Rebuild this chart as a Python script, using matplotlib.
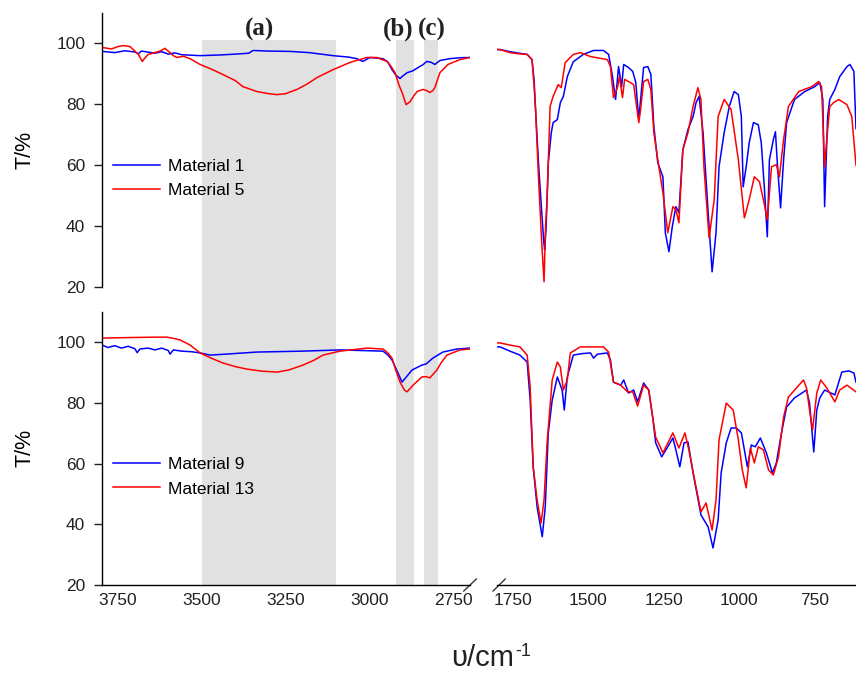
import matplotlib
matplotlib.use("Agg")
import matplotlib.pyplot as plt
from matplotlib.patches import Rectangle
from matplotlib.transforms import blended_transform_factory

plt.rcParams['font.family'] = ['Liberation Sans', 'DejaVu Sans']

# ---- data (wavenumber cm-1, transmittance %) ----
# high wavenumber region, top panel
m1_hi_wn = [3798, 3760, 3730, 3700, 3690, 3680, 3640, 3620, 3600, 3580, 3560, 3505, 3450, 3400, 3360,
            3347, 3300, 3237, 3180, 3108, 3060, 3037, 3019, 2998, 2959, 2945, 2932, 2920, 2908, 2900,
            2887, 2870, 2854, 2840, 2828, 2815, 2804, 2789, 2759, 2730, 2699]
m1_hi_t = [97.4, 97.0, 97.6, 97.2, 96.6, 97.5, 96.8, 97.3, 96.5, 96.9, 96.3, 96.0, 96.2, 96.5, 96.8,
           97.7, 97.5, 97.4, 97.0, 96.0, 95.5, 95.0, 94.1, 95.4, 95.0, 94.0, 91.4, 89.5, 88.5, 89.3,
           90.4, 91.0, 92.1, 93.0, 94.1, 93.8, 93.1, 94.4, 95.0, 95.3, 95.4]
m5_hi_wn = [3798, 3770, 3750, 3735, 3715, 3705, 3690, 3678, 3668, 3660, 3640, 3625, 3610, 3595, 3585,
            3574, 3555, 3535, 3505, 3470, 3437, 3400, 3377, 3335, 3300, 3275, 3250, 3216, 3185, 3156,
            3108, 3057, 3007, 2977, 2947, 2935, 2923, 2910, 2902, 2890, 2878, 2867, 2857, 2840, 2830,
            2819, 2810, 2804, 2789, 2765, 2729, 2699]
m5_hi_t = [98.7, 98.2, 99.0, 99.3, 99.0, 98.0, 96.5, 94.1, 95.5, 96.4, 97.0, 97.5, 98.4, 97.0, 96.0,
           95.4, 95.8, 95.0, 93.1, 91.5, 89.8, 87.8, 85.8, 84.2, 83.5, 83.2, 83.5, 84.9, 86.7, 88.8,
           91.4, 93.8, 95.4, 95.4, 94.1, 92.5, 90.4, 86.0, 83.9, 79.9, 80.9, 82.8, 84.2, 84.9, 84.6,
           83.9, 84.5, 85.5, 90.4, 93.1, 94.7, 95.4]

# high wavenumber region, bottom panel
m9_hi_wn = [3798, 3780, 3760, 3740, 3720, 3700, 3693, 3685, 3660, 3640, 3620, 3600, 3595, 3585, 3560,
            3530, 3505, 3475, 3430, 3335, 3198, 3087, 2959, 2945, 2932, 2915, 2902, 2887, 2872, 2843,
            2830, 2810, 2780, 2738, 2699]
m9_hi_t = [99.0, 98.2, 98.8, 98.0, 98.6, 97.8, 96.5, 97.7, 98.0, 97.4, 98.0, 97.2, 96.0, 97.4, 97.0,
           96.8, 96.4, 95.7, 96.0, 96.7, 97.0, 97.4, 97.0, 95.8, 94.1, 90.0, 86.8, 88.8, 90.8, 92.4,
           92.8, 94.7, 96.7, 97.7, 98.0]
m13_hi_wn = [3798, 3700, 3640, 3604, 3585, 3565, 3535, 3505, 3470, 3437, 3400, 3366, 3320, 3275, 3240,
             3198, 3165, 3138, 3087, 3007, 2959, 2945, 2932, 2920, 2908, 2895, 2887, 2869, 2843, 2830,
             2819, 2798, 2785, 2768, 2729, 2699]
m13_hi_t = [101.3, 101.5, 101.6, 101.6, 101.2, 100.7, 99.0, 96.4, 94.6, 93.1, 91.9, 91.1, 90.4, 90.1, 90.8,
            92.4, 94.0, 95.7, 97.0, 98.0, 97.7, 96.5, 94.7, 90.5, 86.8, 84.2, 83.6, 85.8, 88.5, 88.6,
            88.2, 90.8, 93.2, 95.7, 97.4, 97.7]

# fingerprint region, top panel
m1_lo_wn = [1803, 1793, 1760, 1730, 1703, 1687, 1680, 1675, 1665, 1655, 1648, 1645, 1640, 1633, 1623,
            1617, 1603, 1593, 1583, 1570, 1550, 1517, 1483, 1450, 1433, 1420, 1410, 1400, 1390, 1383,
            1367, 1353, 1343, 1333, 1327, 1317, 1303, 1293, 1283, 1270, 1253, 1245, 1233, 1222, 1210,
            1200, 1187, 1170, 1153, 1143, 1133, 1120, 1103, 1090, 1077, 1067, 1050, 1033, 1017, 1003,
            993, 987, 977, 967, 953, 937, 927, 917, 907, 900, 887, 880, 873, 863, 853,
            843, 817, 783, 750, 733, 723, 717, 707, 700, 683, 667, 643, 633, 620, 613]
m1_lo_t = [98.0, 98.0, 97.3, 96.8, 96.4, 94.7, 88.0, 78.0, 60.0, 45.0, 35.0, 32.2, 40.0, 60.8, 70.7,
           74.0, 75.0, 80.6, 82.6, 89.1, 94.0, 96.4, 97.7, 97.7, 96.4, 89.1, 81.6, 92.4, 85.8, 93.1,
           92.1, 90.8, 87.2, 75.0, 81.6, 92.1, 92.4, 89.8, 72.7, 60.8, 56.2, 37.8, 31.6, 39.8, 46.4,
           44.4, 65.1, 71.7, 76.0, 80.6, 82.6, 70.7, 44.4, 25.0, 37.8, 59.5, 70.7, 79.3, 84.2, 83.2,
           76.0, 52.9, 59.5, 67.4, 74.0, 73.3, 67.4, 52.9, 36.5, 61.8, 68.4, 71.0, 59.5, 46.0, 61.8,
           74.0, 81.6, 84.2, 85.8, 87.2, 81.6, 46.4, 76.0, 81.6, 84.9, 89.1, 92.4, 93.1, 90.8, 72.0]
m5_lo_wn = [1803, 1793, 1760, 1730, 1703, 1687, 1680, 1675, 1665, 1655, 1647, 1642, 1637, 1627, 1617,
            1600, 1590, 1577, 1550, 1527, 1493, 1437, 1427, 1417, 1403, 1397, 1387, 1380, 1367, 1350,
            1333, 1327, 1317, 1303, 1293, 1283, 1270, 1253, 1237, 1220, 1210, 1200, 1187, 1170, 1153,
            1137, 1127, 1117, 1100, 1083, 1070, 1050, 1027, 1003, 983, 967, 950, 933, 920, 907,
            893, 877, 867, 853, 837, 803, 760, 737, 727, 717, 710, 700, 687, 670, 643,
            627, 613]
m5_lo_t = [98.0, 98.0, 97.0, 96.6, 96.4, 94.7, 86.0, 78.0, 55.0, 35.0, 21.7, 40.0, 48.7, 79.3, 82.6,
           86.5, 85.5, 93.7, 96.4, 97.0, 95.7, 94.7, 92.4, 82.2, 85.8, 89.1, 82.2, 88.2, 87.5, 86.5,
           74.0, 78.3, 87.5, 88.2, 84.9, 70.7, 61.8, 51.0, 37.8, 46.4, 45.4, 41.1, 65.1, 70.7, 79.3,
           85.5, 81.6, 59.5, 36.1, 48.7, 76.0, 81.6, 78.3, 61.8, 42.7, 48.7, 56.2, 54.6, 48.7, 42.1,
           59.5, 60.2, 56.2, 68.4, 79.3, 84.2, 85.8, 87.5, 85.8, 59.5, 68.4, 79.3, 80.6, 81.6, 79.9,
           76.0, 60.0]

# fingerprint region, bottom panel
m9_lo_wn = [1803, 1793, 1760, 1727, 1703, 1693, 1683, 1670, 1653, 1643, 1633, 1620, 1603, 1587, 1580,
            1570, 1550, 1520, 1493, 1483, 1470, 1437, 1427, 1417, 1393, 1383, 1367, 1350, 1337, 1317,
            1300, 1287, 1277, 1257, 1237, 1220, 1210, 1197, 1183, 1170, 1153, 1127, 1103, 1087, 1070,
            1060, 1043, 1027, 1010, 993, 973, 960, 947, 930, 910, 890, 877, 860, 843, 817,
            777, 767, 753, 743, 733, 717, 683, 660, 637, 620, 613]
m9_lo_t = [98.4, 98.4, 97.0, 95.7, 93.4, 80.9, 58.9, 45.7, 35.9, 45.7, 70.1, 80.9, 88.5, 84.2, 77.6,
           88.5, 95.7, 96.2, 96.4, 94.7, 96.0, 96.4, 94.1, 86.8, 85.8, 87.5, 83.2, 84.2, 80.3, 86.5,
           84.2, 75.3, 66.8, 62.2, 65.5, 68.4, 64.5, 58.9, 66.8, 67.1, 56.9, 43.1, 39.1, 32.2, 41.4,
           56.9, 66.8, 71.7, 71.7, 70.1, 58.9, 66.1, 65.5, 68.4, 63.5, 56.9, 60.2, 70.1, 78.6, 81.6,
           84.2, 79.9, 63.8, 77.6, 81.6, 84.2, 82.6, 90.1, 90.5, 89.8, 86.8]
m13_lo_wn = [1803, 1793, 1760, 1727, 1703, 1693, 1683, 1670, 1657, 1647, 1637, 1620, 1603, 1593, 1583,
             1570, 1560, 1527, 1450, 1433, 1417, 1393, 1370, 1353, 1337, 1317, 1300, 1287, 1277, 1253,
             1220, 1200, 1180, 1167, 1150, 1127, 1110, 1090, 1077, 1067, 1043, 1020, 1003, 990, 977,
             963, 950, 937, 920, 903, 887, 870, 853, 837, 787, 777, 767, 757, 743, 730,
             710, 683, 667, 643, 613]
m13_lo_t = [99.7, 99.7, 99.0, 98.4, 95.7, 85.2, 58.9, 48.0, 40.4, 48.0, 66.8, 87.5, 93.4, 91.8, 84.2,
            87.5, 96.4, 98.4, 98.4, 96.7, 86.8, 85.8, 83.6, 83.6, 78.9, 85.8, 84.2, 75.3, 68.7, 63.5,
            70.1, 65.1, 70.1, 64.5, 55.6, 44.1, 47.0, 38.1, 48.0, 67.8, 79.9, 77.6, 67.8, 57.9, 52.0,
            65.1, 60.2, 65.5, 64.5, 57.9, 56.2, 62.2, 75.3, 81.9, 87.5, 84.9, 77.6, 71.0, 83.2, 87.5,
            84.9, 80.3, 84.2, 85.8, 83.6]

bands = [(3500, 3100), (2920, 2865), (2835, 2795)]
band_labels = ['(a)', '(b)', '(c)']
band_label_x = [3329, 2914, 2813]

hi_ticks = [3750, 3500, 3250, 3000, 2750]
lo_ticks = [1750, 1500, 1250, 1000, 750]
y_ticks = [20, 40, 60, 80, 100]

blue = '#0000FF'
red = '#FF0000'

fig = plt.figure(figsize=(8.56, 6.75), dpi=100)
axL1 = fig.add_axes([0.1192, 0.5748, 0.4299, 0.4059])
axL2 = fig.add_axes([0.1192, 0.1333, 0.4299, 0.4050])
axR1 = fig.add_axes([0.5806, 0.5748, 0.4194, 0.4059])
axR2 = fig.add_axes([0.5806, 0.1333, 0.4194, 0.4050])

for ax in (axL1, axL2, axR1, axR2):
    ax.set_facecolor('none')
    ax.set_ylim(20, 110)
    for s in ax.spines.values():
        s.set_visible(False)
        s.set_linewidth(1.0)
    ax.tick_params(labelsize=12.5, colors='#222222', width=1.0)
for ax in (axL1, axL2):
    ax.set_xlim(3798, 2699)
    ax.spines['left'].set_visible(True)
    ax.set_yticks(y_ticks)
    ax.tick_params(axis='y', direction='out', length=6, pad=6)
    ax.set_ylabel('T/%', fontsize=15.5, labelpad=15)
for ax in (axR1, axR2):
    ax.set_xlim(1803, 613)
    ax.set_yticks([])
axL1.set_xticks([])
axR1.set_xticks([])
axL2.spines['bottom'].set_visible(True)
axR2.spines['bottom'].set_visible(True)
axL2.set_xticks(hi_ticks)
axR2.set_xticks(lo_ticks)
axL2.tick_params(axis='x', length=0, pad=6)
axR2.tick_params(axis='x', length=0, pad=6)

# shaded bands run through both left panels
tr = blended_transform_factory(axL2.transData, fig.transFigure)
for (b0, b1) in bands:
    fig.patches.append(Rectangle((b1, 0.1333), b0 - b1, 0.9407 - 0.1333, transform=tr,
                                 facecolor='#E1E1E1', edgecolor='none', zorder=-1))
for lab, xb in zip(band_labels, band_label_x):
    axL1.text(xb, 0.957, lab, transform=blended_transform_factory(axL1.transData, fig.transFigure),
              ha='center', va='center', fontsize=18, fontweight='bold', family='Liberation Serif',
              color='#222222')

lw = 1.1
axL1.plot(m1_hi_wn, m1_hi_t, color=blue, lw=lw, label='Material 1')
axL1.plot(m5_hi_wn, m5_hi_t, color=red, lw=lw, label='Material 5')
axR1.plot(m1_lo_wn, m1_lo_t, color=blue, lw=lw)
axR1.plot(m5_lo_wn, m5_lo_t, color=red, lw=lw)
axL2.plot(m9_hi_wn, m9_hi_t, color=blue, lw=lw, label='Material 9')
axL2.plot(m13_hi_wn, m13_hi_t, color=red, lw=lw, label='Material 13')
axR2.plot(m9_lo_wn, m9_lo_t, color=blue, lw=lw)
axR2.plot(m13_lo_wn, m13_lo_t, color=red, lw=lw)

for ax in (axL1, axL2):
    ax.legend(loc='upper left', bbox_to_anchor=(0.006, 0.50), frameon=False, fontsize=12.5,
              handlelength=2.7, handletextpad=0.5, labelspacing=0.53, borderpad=0)

# axis break marks
dx, dy = 0.017, 0.022
axL2.plot([1 - dx, 1 + dx], [-dy, dy], transform=axL2.transAxes, color='#333333', lw=1.0, clip_on=False)
axR2.plot([0.006 - dx, 0.006 + dx], [-dy, dy], transform=axR2.transAxes, color='#333333', lw=1.0, clip_on=False)

fig.text(514 / 856, 1 - 666 / 675, 'υ/cm', ha='right', va='baseline', fontsize=21, color='#222222')
fig.text(515 / 856, 1 - 651 / 675, '-1', ha='left', va='center', fontsize=13, color='#222222')

fig.savefig('out.png', dpi=100)
